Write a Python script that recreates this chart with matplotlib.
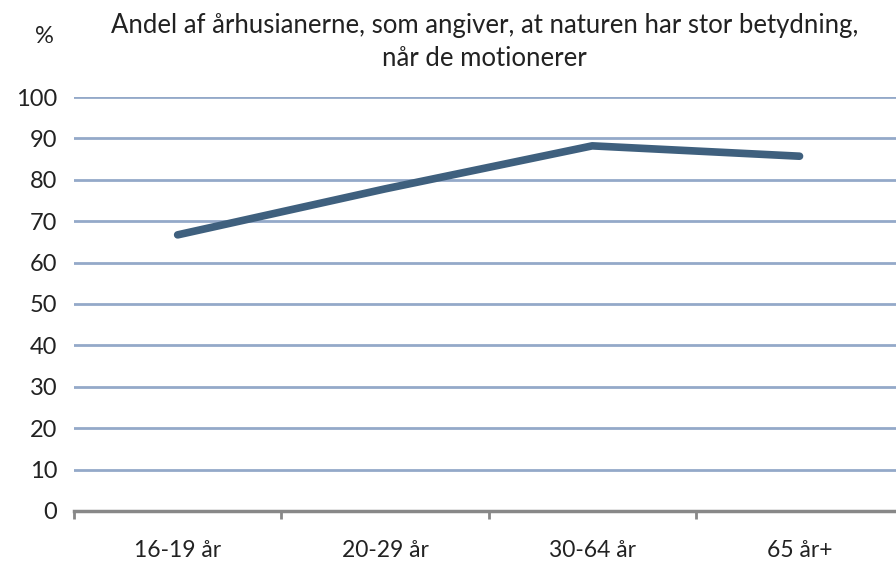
import matplotlib
matplotlib.use("Agg")
import matplotlib.pyplot as plt
import numpy as np

categories = ["16-19 år", "20-29 år", "30-64 år", "65 år+"]
values = [66.7, 77.8, 88.2, 85.7]
yticks = [0, 10, 20, 30, 40, 50, 60, 70, 80, 90, 100]
title = "Andel af århusianerne, som angiver, at naturen har stor betydning,\nnår de motionerer"

plt.rcParams['font.family'] = ['Lato', 'DejaVu Sans']

fig = plt.figure(figsize=(8.96, 5.64), dpi=100)
ax = fig.add_axes([0.0826, 0.094, 0.9254, 0.734])

x = np.arange(len(categories))
ax.plot(x, values, color="#3F607E", linewidth=5.5, solid_capstyle="round", solid_joinstyle="round", zorder=3)

ax.set_xlim(-0.5, len(categories) - 0.5)
ax.set_ylim(0, 100)
ax.set_yticks(yticks)
ax.set_yticklabels([str(v) for v in yticks], fontsize=17, color="#222222")
ax.yaxis.grid(True, color="#94A9C9", linewidth=2)
ax.set_axisbelow(True)
ax.tick_params(axis="y", length=0, pad=12)

ax.set_xticks(x)
ax.set_xticklabels(categories, fontsize=16.5, color="#222222")
ax.tick_params(axis="x", which="major", length=0, pad=21)
ax.set_xticks(np.arange(-0.5, len(categories), 1.0), minor=True)
ax.tick_params(axis="x", which="minor", length=6, width=2, color="#888888", direction="out")

for s in ["top", "right", "left"]:
    ax.spines[s].set_visible(False)
ax.spines["bottom"].set_color("#888888")
ax.spines["bottom"].set_linewidth(2.5)

fig.text(0.541, 0.926, title, ha="center", va="center", fontsize=18.5, color="#222222", linespacing=1.4)
fig.text(0.05, 0.936, "%", ha="center", va="center", fontsize=17, color="#222222")

fig.savefig("out.png", dpi=100)
